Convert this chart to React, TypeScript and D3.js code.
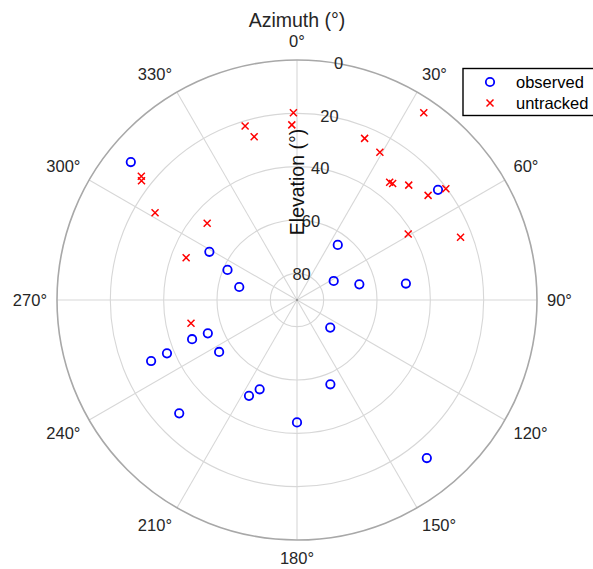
import React from "react";
import * as d3 from "d3";

// Sky plot: azimuth clockwise from north, elevation 90° at centre, 0° at rim
const observedAz = [309.7, 298.8, 293.4, 282.7, 52.0, 36.5, 62.6, 75.9, 81.4, 129.7, 158.4, 180.0, 140.6, 249.5, 249.5, 236.3, 247.7, 247.3, 202.7, 206.6, 226.1];
const observedEl = [9.0, 52.5, 61.6, 67.8, 22.9, 64.3, 74.5, 65.9, 48.7, 73.8, 56.0, 44.1, 13.3, 54.3, 48.0, 54.9, 37.3, 30.7, 53.7, 49.8, 28.7];

const untrackedAz = [358.9, 358.3, 343.4, 345.3, 308.5, 307.5, 301.6, 310.5, 290.9, 257.6, 34.1, 22.7, 29.3, 38.2, 39.4, 44.2, 51.4, 53.2, 59.3, 69.0];
const untrackedEl = [19.8, 24.3, 21.9, 26.7, 15.4, 16.5, 27.5, 45.7, 45.5, 49.3, 5.2, 24.3, 26.5, 33.8, 33.5, 29.9, 27.1, 20.3, 41.5, 24.3];

const azimuthTicks = [0, 30, 60, 90, 120, 150, 180, 210, 240, 270, 300, 330];
const elevationTicks = [0, 20, 40, 60, 80];
const elevationRings = [20, 40, 60, 80];

const W = 593;
const H = 569;
const CX = 297;
const CY = 300;
const R = 240;
const FONT = "'Liberation Sans', Arial, Helvetica, sans-serif";
const TEXT = "#262626";

const rScale = d3.scaleLinear().domain([90, 0]).range([0, R]);
const aScale = d3.scaleLinear().domain([0, 360]).range([0, 2 * Math.PI]);

function toXY(az: number, el: number): [number, number] {
  const a = aScale(az);
  const r = rScale(el);
  return [CX + r * Math.sin(a), CY - r * Math.cos(a)];
}

function Cross({ x, y, s, color }: { x: number; y: number; s: number; color: string }) {
  return (
    <path
      d={`M${x - s},${y - s}L${x + s},${y + s}M${x - s},${y + s}L${x + s},${y - s}`}
      stroke={color}
      strokeWidth={1.5}
      fill="none"
    />
  );
}

export default function App() {
  const labelR = R + 10;
  const observed = observedAz.map((az, i) => toXY(az, observedEl[i]));
  const untracked = untrackedAz.map((az, i) => toXY(az, untrackedEl[i]));

  return (
    <svg
      width={W}
      height={H}
      style={{ position: "absolute", left: 0, top: 0, background: "#fff" }}
      fontFamily={FONT}
    >
      <rect x={0} y={0} width={W} height={H} fill="#fff" />

      {/* elevation rings */}
      {elevationRings.map((el) => (
        <circle key={el} cx={CX} cy={CY} r={rScale(el)} fill="none" stroke="#d7d7d7" strokeWidth={1.1} />
      ))}

      {/* azimuth spokes */}
      {azimuthTicks.map((az) => {
        const [x, y] = toXY(az, 0);
        return <line key={az} x1={CX} y1={CY} x2={x} y2={y} stroke="#d7d7d7" strokeWidth={1.1} />;
      })}

      {/* rim */}
      <circle cx={CX} cy={CY} r={R} fill="none" stroke="#a8a8a8" strokeWidth={1.6} />
      <circle cx={CX} cy={CY} r={1.2} fill="#999" />

      {/* azimuth labels */}
      {azimuthTicks.map((az) => {
        const a = aScale(az);
        const s = Math.sin(a);
        const c = Math.cos(a);
        const x = CX + labelR * s;
        const y = CY - labelR * c;
        const anchor = s > 0.1 ? "start" : s < -0.1 ? "end" : "middle";
        const dy = c > 0.1 ? "-0.2em" : c < -0.1 ? "0.85em" : "0.35em";
        return (
          <text key={az} x={x} y={y} dy={dy} textAnchor={anchor} fontSize={16.5} fill={TEXT}>
            {`${az}°`}
          </text>
        );
      })}

      {/* elevation tick labels along the 10° radial */}
      {elevationTicks.map((el) => {
        const [x, y] = toXY(10, el);
        return (
          <text key={el} x={x} y={y} dy="0.35em" textAnchor="middle" fontSize={16.5} fill={TEXT}>
            {el}
          </text>
        );
      })}

      {/* axis titles */}
      <text x={CX} y={27} textAnchor="middle" fontSize={19.5} fill={TEXT}>
        Azimuth (°)
      </text>
      <text
        transform={`translate(${CX + 7},${182}) rotate(-90)`}
        textAnchor="middle"
        fontSize={19.5}
        fill="#111"
      >
        Elevation (°)
      </text>

      {/* data */}
      {observed.map(([x, y], i) => (
        <circle key={`o${i}`} cx={x} cy={y} r={4.2} fill="none" stroke="#0000ff" strokeWidth={1.8} />
      ))}
      {untracked.map(([x, y], i) => (
        <Cross key={`u${i}`} x={x} y={y} s={3.5} color="#ff0000" />
      ))}

      {/* legend */}
      <rect x={463} y={68.5} width={140} height={47} fill="#fff" stroke="#000" strokeWidth={1.4} />
      <circle cx={490} cy={82} r={4.2} fill="none" stroke="#0000ff" strokeWidth={1.8} />
      <Cross x={490} y={103} s={3.5} color="#ff0000" />
      <text x={516} y={82} dy="0.35em" fontSize={16.5} fill="#000">
        observed
      </text>
      <text x={516} y={103} dy="0.35em" fontSize={16.5} fill="#000">
        untracked
      </text>
    </svg>
  );
}
